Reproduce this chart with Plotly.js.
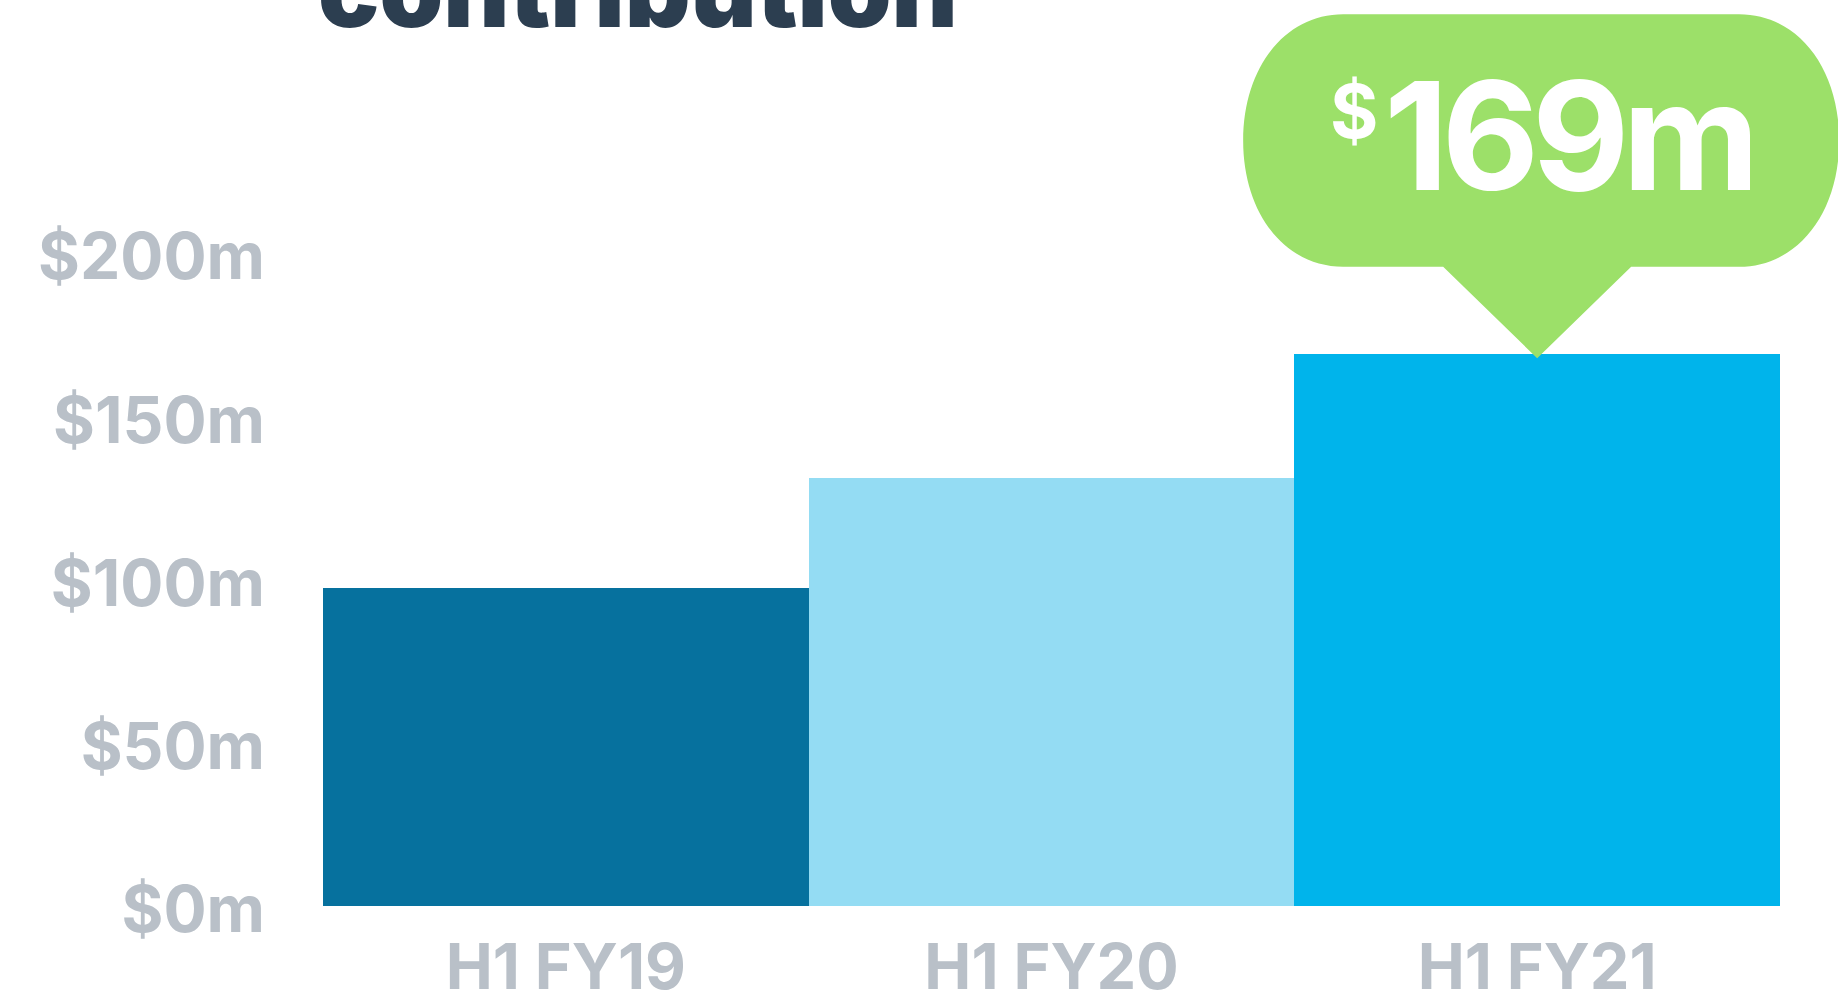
<!DOCTYPE html>
<html>
<head>
<meta charset="utf-8">
<script src="https://cdn.plot.ly/plotly-3.0.1.min.js"></script>
<style>
  html, body { margin: 0; padding: 0; background: #ffffff; }
  #chart { width: 1838px; height: 997px; }
  g.annotation[data-index="0"] text { letter-spacing: -7px; }
</style>
</head>
<body>
<div id="chart"></div>
<script>
// ---- data ----
const categories = ['H1 FY19', 'H1 FY20', 'H1 FY21'];
const values = [97.5, 131, 169];
const barColors = ['#06719e', '#94dcf3', '#00b4eb'];
const yTickVals = [0, 50, 100, 150, 200];
const yTickText = yTickVals.map(v => '$' + v + 'm');
const highlightIndex = 2;
const titleText = 'contribution';

// ---- style ----
const FONT = 'Inter, Liberation Sans, Arial, sans-serif';
const GREY = '#b9c0c8';
const GREEN = '#9ce069';
const yMax = 200;

// bubble geometry (pixels, y up, relative to top of highlighted bar)
function bubblePath() {
  const tipY = -4, baseY = 87.5, topY = 340;
  const tailHW = 94, leftW = 294, rightW = 302, rx = 100;
  const ry = (topY - baseY) / 2, ym = baseY + ry, k = 0.58;
  const lx = leftW - rx, rxs = rightW - rx;
  return [
    `M 0 ${tipY}`,
    `L ${-tailHW} ${baseY}`,
    `L ${-lx} ${baseY}`,
    `C ${-lx - k * rx} ${baseY} ${-leftW} ${ym - k * ry} ${-leftW} ${ym}`,
    `C ${-leftW} ${ym + k * ry} ${-lx - k * rx} ${topY} ${-lx} ${topY}`,
    `L ${rxs} ${topY}`,
    `C ${rxs + k * rx} ${topY} ${rightW} ${ym + k * ry} ${rightW} ${ym}`,
    `C ${rightW} ${ym - k * ry} ${rxs + k * rx} ${baseY} ${rxs} ${baseY}`,
    `L ${tailHW} ${baseY}`,
    'Z'
  ].join(' ');
}

const anchorX = (highlightIndex + 0.5) / categories.length;
const anchorY = values[highlightIndex] / yMax;

const trace = {
  type: 'bar',
  x: categories,
  y: values,
  marker: { color: barColors, line: { width: 0 } },
  hoverinfo: 'skip',
  cliponaxis: false
};

const layout = {
  width: 1838,
  height: 997,
  margin: { l: 323, r: 58, t: 253, b: 91, pad: 0 },
  paper_bgcolor: '#ffffff',
  plot_bgcolor: '#ffffff',
  showlegend: false,
  bargap: 0,
  font: { family: FONT },
  xaxis: {
    type: 'category',
    showgrid: false, zeroline: false, showline: false, ticks: '',
    tickfont: { family: FONT, size: 63, color: GREY, weight: 700 },
    ticklabelstandoff: 19,
    fixedrange: true
  },
  yaxis: {
    range: [0, yMax],
    tickvals: yTickVals,
    ticktext: yTickText,
    showgrid: false, zeroline: false, showline: false, ticks: '',
    tickfont: { family: FONT, size: 64, color: GREY, weight: 700 },
    ticklabelstandoff: 57,
    ticklabelshift: 4,
    fixedrange: true
  },
  shapes: [{
    type: 'path',
    xref: 'paper', yref: 'paper',
    xsizemode: 'pixel', ysizemode: 'pixel',
    xanchor: anchorX, yanchor: anchorY,
    path: bubblePath(),
    fillcolor: GREEN,
    line: { width: 0 },
    layer: 'above'
  }],
  annotations: [
    {
      xref: 'paper', yref: 'paper', x: anchorX, y: anchorY,
      xanchor: 'center', yanchor: 'middle',
      xshift: 31, yshift: 219,
      text: String(values[highlightIndex] | 0) + 'm',
      showarrow: false,
      font: { family: FONT, size: 150, color: '#ffffff', weight: 700 }
    },
    {
      xref: 'paper', yref: 'paper', x: anchorX, y: anchorY,
      xanchor: 'center', yanchor: 'middle',
      xshift: -183.5, yshift: 243,
      text: '$',
      showarrow: false,
      font: { family: FONT, size: 74, color: '#ffffff', weight: 700 }
    },
    {
      xref: 'paper', yref: 'paper', x: -0.005, y: 1.403,
      xanchor: 'left', yanchor: 'middle',
      text: titleText,
      showarrow: false,
      font: { family: FONT, size: 102, color: '#2c3e50', weight: 900 }
    }
  ]
};

Plotly.newPlot('chart', [trace], layout, { displayModeBar: false, staticPlot: true });
</script>
</body>
</html>
